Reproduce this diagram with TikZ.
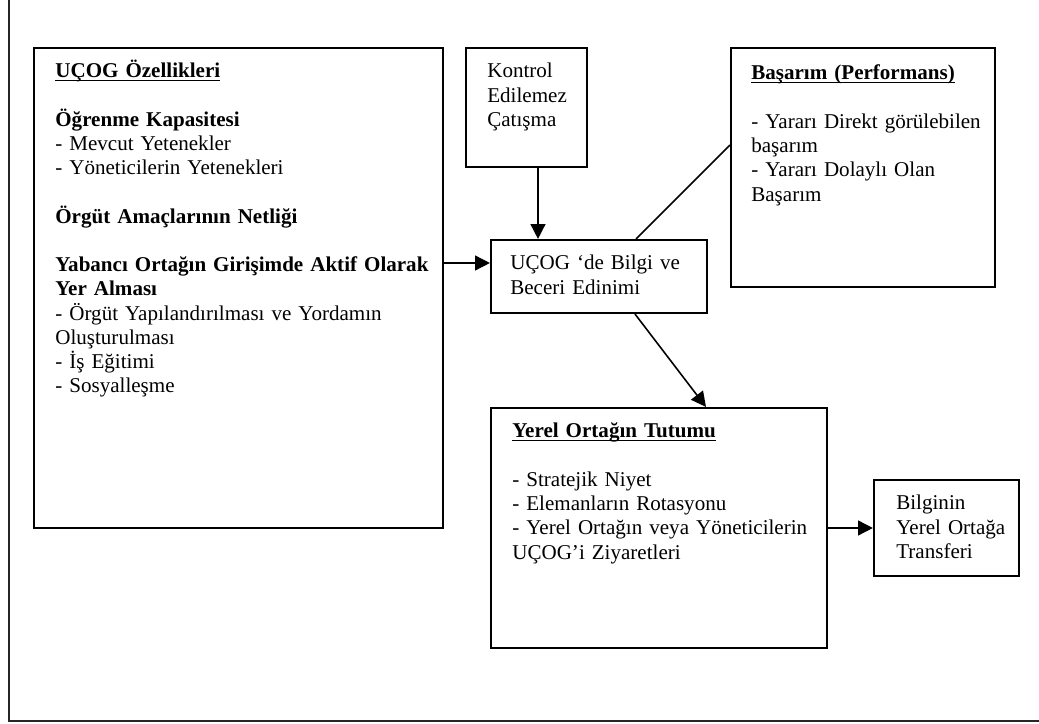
\documentclass[tikz,border=0pt]{standalone}
\usepackage{fontspec}
\setmainfont{Liberation Serif}
\usetikzlibrary{arrows.meta,fit}

\newsavebox\baslikkutu
\newcommand{\baslik}[1]{\sbox\baslikkutu{\textbf{#1}}\rlap{\rule[-1.8pt]{\wd\baslikkutu}{0.8pt}}\usebox\baslikkutu}

\tikzset{
  kutu/.style={draw, line width=1.2pt, inner sep=0pt},
  metin/.style={anchor=base west, align=left, text width=260pt, inner sep=0pt,
    font=\fontsize{12}{13.8}\selectfont},
  ok/.style={line width=0.9pt, -{Triangle[length=8.5pt,width=8.5pt]}},
  cerceve/.style={line width=1.1pt, draw=black!85},
}

\begin{document}
\begin{tikzpicture}[x=0.57pt, y=-0.57pt]
	\useasboundingbox (0,0) rectangle (1039,724);
	\draw[cerceve] (9,0) -- (9,721) -- (1039,721);

	% kutular
	\node[kutu, fit={(34,48) (443,528)}] (ucog) {};
	\node[kutu, fit={(466,48) (587,167)}] (kontrol) {};
	\node[kutu, fit={(491,240) (707,313)}] (edinim) {};
	\node[kutu, fit={(731,48) (995,287)}] (basarim) {};
	\node[kutu, fit={(491,408) (827,648)}] (tutum) {};
	\node[kutu, fit={(874,480) (1019,576)}] (transfer) {};

	% yazilar
	\node[metin] (ucogtxt) at (55,78) {\baslik{UÇOG Özellikleri}\\[\baselineskip]
		\textbf{Öğrenme Kapasitesi}\\
		- Mevcut Yetenekler\\
		- Yöneticilerin Yetenekleri\\[\baselineskip]
		\textbf{Örgüt Amaçlarının Netliği}\\[\baselineskip]
		\textbf{Yabancı Ortağın Girişimde Aktif Olarak}\\
		\textbf{Yer Alması}\\
		- Örgüt Yapılandırılması ve Yordamın\\
		Oluşturulması\\
		- İş Eğitimi\\
		- Sosyalleşme};
	\node[metin] (kontroltxt) at (487,78) {Kontrol\\ Edilemez\\ Çatışma};
	\node[metin] (edinimtxt) at (510,270) {UÇOG ‘de Bilgi ve\\ Beceri Edinimi};
	\node[metin] (basarimtxt) at (751,80) {\baslik{Başarım (Performans)}\\[\baselineskip]
		- Yararı Direkt görülebilen\\
		başarım\\
		- Yararı Dolaylı Olan\\
		Başarım};
	\node[metin] (tutumtxt) at (512,438) {\baslik{Yerel Ortağın Tutumu}\\[\baselineskip]
		- Stratejik Niyet\\
		- Elemanların Rotasyonu\\
		- Yerel Ortağın veya Yöneticilerin\\
		UÇOG’i Ziyaretleri};
	\node[metin] (transfertxt) at (896,510) {Bilginin\\ Yerel Ortağa\\ Transferi};

	% baglantilar
	\draw[ok] (kontrol.south -| 538,0) -- (edinim.north -| 538,0);
	\draw[ok] (ucog.east |- 0,263) -- (edinim.west |- 0,263);
	\draw[line width=0.9pt] (edinim.north -| 636,0) -- (basarim.west |- 0,145);
	\draw[ok] (edinim.south -| 635,0) -- (tutum.north -| 706,0);
	\draw[ok] (tutum.east) -- (transfer.west);
\end{tikzpicture}
\end{document}
